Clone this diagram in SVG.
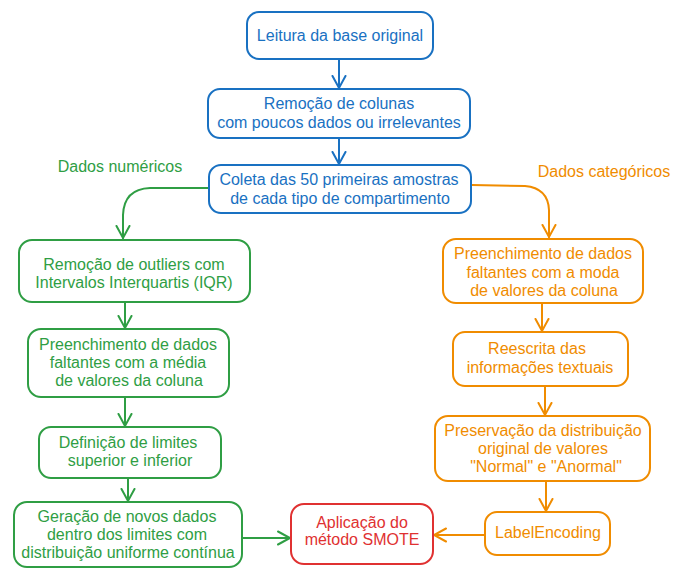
<svg xmlns="http://www.w3.org/2000/svg" width="673" height="569" viewBox="0 0 673 569">
<style>
text{font-family:"Liberation Sans",Arial,sans-serif;font-size:16px;text-anchor:middle}
.box{fill:none;stroke-width:2}
.b{stroke:#1971c2}.tb{fill:#1971c2}
.g{stroke:#2f9e44}.tg{fill:#2f9e44}
.o{stroke:#f08c00}.to{fill:#f08c00}
.r{stroke:#e03131}.tr{fill:#e03131}
.ln{fill:none;stroke-width:2;stroke-linecap:round}
</style>
<defs>
<marker id="ab" markerWidth="16" markerHeight="16" viewBox="-13 -8 15 16" refX="0" refY="0" orient="auto" markerUnits="userSpaceOnUse"><path d="M-12,-6.5 L0,0 L-12,6.5" fill="none" stroke="#1971c2" stroke-width="2" stroke-linecap="round"/></marker>
<marker id="ag" markerWidth="16" markerHeight="16" viewBox="-13 -8 15 16" refX="0" refY="0" orient="auto" markerUnits="userSpaceOnUse"><path d="M-12,-6.5 L0,0 L-12,6.5" fill="none" stroke="#2f9e44" stroke-width="2" stroke-linecap="round"/></marker>
<marker id="ao" markerWidth="16" markerHeight="16" viewBox="-13 -8 15 16" refX="0" refY="0" orient="auto" markerUnits="userSpaceOnUse"><path d="M-12,-6.5 L0,0 L-12,6.5" fill="none" stroke="#f08c00" stroke-width="2" stroke-linecap="round"/></marker>
</defs>
<rect width="673" height="569" fill="#ffffff"/>

<g id="connectors">
<path class="ln b" d="M339,59 L339,88" marker-end="url(#ab)"/>
<path class="ln b" d="M339,138 L339,164" marker-end="url(#ab)"/>
<path class="ln g" d="M208,188 L150,188 Q124,189 123,215 L123,238" marker-end="url(#ag)"/>
<path class="ln o" d="M472,185 L525,186 Q548,188 549,210 L549,237" marker-end="url(#ao)"/>
<path class="ln g" d="M125,302 L125,328" marker-end="url(#ag)"/>
<path class="ln g" d="M125,397 L125,426" marker-end="url(#ag)"/>
<path class="ln g" d="M128,478 L128,501" marker-end="url(#ag)"/>
<path class="ln g" d="M242,538 L290,538" marker-end="url(#ag)"/>
<path class="ln o" d="M542,304 L542,331" marker-end="url(#ao)"/>
<path class="ln o" d="M545,386 L545,415" marker-end="url(#ao)"/>
<path class="ln o" d="M546,481 L546,511" marker-end="url(#ao)"/>
<path class="ln o" d="M485,535 L434,535" marker-end="url(#ao)"/>
</g>

<g id="lbl-num"><text class="tg" x="120" y="172">Dados numéricos</text></g>
<g id="lbl-cat"><text class="to" x="604" y="177">Dados categóricos</text></g>

<g id="n1"><rect class="box b" x="247" y="12" width="186" height="47" rx="12"/>
<text class="tb" x="340" y="41">Leitura da base original</text></g>

<g id="n2"><rect class="box b" x="208" y="89" width="262" height="49" rx="12"/>
<text class="tb" x="339" y="109">Remoção de colunas</text>
<text class="tb" x="339" y="128">com poucos dados ou irrelevantes</text></g>

<g id="n3"><rect class="box b" x="209" y="165" width="262" height="48" rx="12"/>
<text class="tb" x="339" y="185">Coleta das 50 primeiras amostras</text>
<text class="tb" x="340" y="204">de cada tipo de compartimento</text></g>

<g id="g1"><rect class="box g" x="19" y="240" width="231" height="62" rx="13"/>
<text class="tg" x="134" y="270">Remoção de outliers com</text>
<text class="tg" x="134" y="288">Intervalos Interquartis (IQR)</text></g>

<g id="g2"><rect class="box g" x="28" y="329" width="201" height="68" rx="13"/>
<text class="tg" x="128" y="350">Preenchimento de dados</text>
<text class="tg" x="128" y="368">faltantes com a média</text>
<text class="tg" x="129" y="386">de valores da coluna</text></g>

<g id="g3"><rect class="box g" x="39" y="427" width="182" height="51" rx="12"/>
<text class="tg" x="128" y="448">Definição de limites</text>
<text class="tg" x="130" y="466">superior e inferior</text></g>

<g id="g4"><rect class="box g" x="14" y="502" width="228" height="65" rx="13"/>
<text class="tg" x="127" y="522">Geração de novos dados</text>
<text class="tg" x="127" y="540">dentro dos limites com</text>
<text class="tg" x="128" y="558">distribuição uniforme contínua</text></g>

<g id="o1"><rect class="box o" x="443" y="239" width="200" height="64" rx="13"/>
<text class="to" x="543" y="259">Preenchimento de dados</text>
<text class="to" x="543" y="278">faltantes com a moda</text>
<text class="to" x="544" y="296">de valores da coluna</text></g>

<g id="o2"><rect class="box o" x="453" y="332" width="175" height="54" rx="12"/>
<text class="to" x="537" y="354">Reescrita das</text>
<text class="to" x="540" y="373">informações textuais</text></g>

<g id="o3"><rect class="box o" x="435" y="416" width="215" height="65" rx="13"/>
<text class="to" x="543" y="436">Preservação da distribuição</text>
<text class="to" x="543" y="454">original de valores</text>
<text class="to" x="546" y="472">"Normal" e "Anormal"</text></g>

<g id="o4"><rect class="box o" x="485" y="512" width="125" height="43" rx="12"/>
<text class="to" x="548" y="538">LabelEncoding</text></g>

<g id="r1"><rect class="box r" x="291" y="504" width="142" height="60" rx="13"/>
<text class="tr" x="362" y="528">Aplicação do</text>
<text class="tr" x="362" y="545">método SMOTE</text></g>
</svg>
